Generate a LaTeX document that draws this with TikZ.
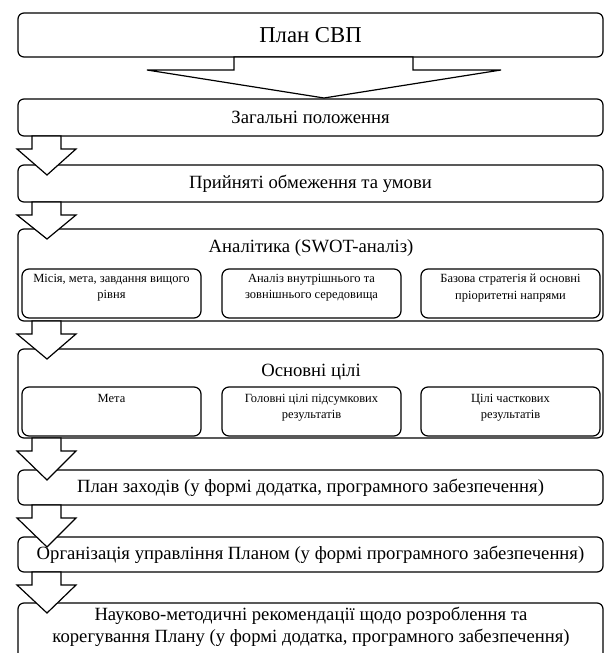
\documentclass[tikz,border=0pt]{standalone}
\usepackage{fontspec}
\setmainfont{Liberation Serif}
\usetikzlibrary{calc}
\newcommand{\smallarrow}[2]{%
  \draw[blockarr] let \p1=(#1.south west), \p2=(#2.north west) in
    (\x1+14pt,\y1) -- (\x1+14pt,\y1-13pt) -- (\x1-1pt,\y1-13pt) -- (\x1+29pt,\y2-10pt)
    -- (\x1+58pt,\y1-13pt) -- (\x1+43pt,\y1-13pt) -- (\x1+43pt,\y1) -- cycle;}
\begin{document}
\begin{tikzpicture}[x=1pt,y=-1pt,
  box/.style={draw, line width=1.2pt, rounded corners=6pt, minimum width=585pt,
    anchor=north west, inner sep=0pt, outer sep=0pt, align=center,
    font=\fontsize{18.67}{21.5}\selectfont},
  subbox/.style={draw, line width=1.2pt, rounded corners=7pt, minimum width=179pt,
    minimum height=49pt, anchor=north west, inner sep=0pt, outer sep=0pt},
  subtext/.style={align=center, font=\fontsize{12.5}{16.5}\selectfont, inner sep=0pt, anchor=north},
  title/.style={font=\fontsize{18.67}{21.5}\selectfont, inner sep=0pt},
  blockarr/.style={draw, fill=white, line width=1.2pt, line join=miter}]
\useasboundingbox (0,0) rectangle (605,653);
\clip (0,0) rectangle (605,653);
% boxes
\node[box, minimum height=44pt, font=\fontsize{22.7}{26}\selectfont] (b1) at (18,13) {План СВП};
\node[box, minimum height=37pt] (b2) at (18,99) {Загальні положення};
\node[box, minimum height=37pt] (b3) at (18,165) {Прийняті обмеження та умови};
\node[box, minimum height=92pt] (b4) at (18,229) {};
\node[title] (t4) at (311,248) {Аналітика (SWOT-аналіз)};
\node[subbox] (s41) at (22,269) {};
\node[subbox] (s42) at (222,269) {};
\node[subbox] (s43) at (421,269) {};
\node[subtext] (s41t) at ($(s41.north)+(0,5)$) {Місія, мета, завдання вищого\\рівня};
\node[subtext] (s42t) at ($(s42.north)+(0,5)$) {Аналіз внутрішнього та\\зовнішнього середовища};
\node[subtext] (s43t) at ($(s43.north)+(0,5)$) {Базова стратегія й основні\\пріоритетні напрями};
\node[box, minimum height=89pt] (b5) at (18,349) {};
\node[title] (t5) at (311,372) {Основні цілі};
\node[subbox] (s51) at (22,387) {};
\node[subbox] (s52) at (222,387) {};
\node[subbox] (s53) at (421,387) {};
\node[subtext] (s51t) at ($(s51.north)+(0,7)$) {Мета};
\node[subtext] (s52t) at ($(s52.north)+(0,7)$) {Головні цілі підсумкових\\результатів};
\node[subtext] (s53t) at ($(s53.north)+(0,7)$) {Цілі часткових\\результатів};
\node[box, minimum height=35pt] (b6) at (18,470) {План заходів (у формі додатка, програмного забезпечення)};
\node[box, minimum height=35pt] (b7) at (18,537) {Організація управління Планом (у формі програмного забезпечення)};
\node[box, minimum height=60pt] (b8) at (18,603) {};
\node[title, align=center] (b8t) at (311,627) {Науково-методичні рекомендації щодо розроблення та\\корегування Плану (у формі додатка, програмного забезпечення)};
% big arrow
\draw[blockarr] let \p1=(b1.south west), \p2=(b2.north west) in
  (\x1+216pt,\y1) -- (\x1+216pt,\y1-13pt) -- (\x1+129pt,\y1-13pt) -- (\x1+306pt,\y2+1pt)
  -- (\x1+483pt,\y1-13pt) -- (\x1+395pt,\y1-13pt) -- (\x1+395pt,\y1) -- cycle;
% small arrows
\smallarrow{b2}{b3}
\smallarrow{b3}{b4}
\smallarrow{b4}{b5}
\smallarrow{b5}{b6}
\smallarrow{b6}{b7}
\smallarrow{b7}{b8}
\end{tikzpicture}
\end{document}
